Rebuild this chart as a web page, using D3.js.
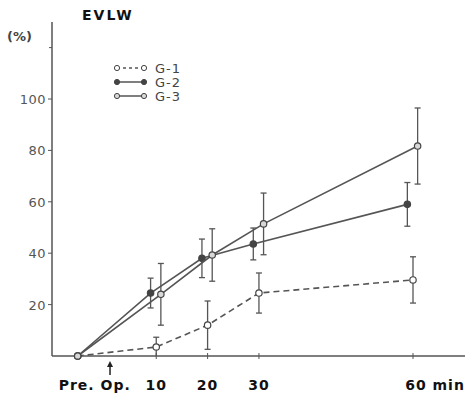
<!DOCTYPE html>
<html>
<head>
<meta charset="utf-8">
<script src="https://cdn.jsdelivr.net/npm/d3@7"></script>
<style>
body { margin: 0; background: #fff; }
text { font-family: "DejaVu Sans", sans-serif; }
</style>
</head>
<body>
<script>
var width = 465,
    height = 396;

// time points (min); Pre. Op. is drawn a bit left of 0
var times = [-5.3, 10, 20, 30, 60];
var tickLabels = ["Pre. Op.", "10", "20", "30", "60 min"];
var yTicks = [20, 40, 60, 80, 100];

var g1 = [0, 3.5, 12, 24.5, 29.6];
var g1Err = [0, 3.8, 9.4, 7.8, 9];
var g2 = [0, 24.5, 38, 43.6, 59];
var g2Err = [0, 5.8, 7.5, 6.2, 8.5];
var g3 = [0, 24, 39.3, 51.4, 81.7];
var g3Err = [0, 12, 10.2, 12, 14.8];

var series = [
  {name: "G-1", values: g1, err: g1Err, dodge: 0, dash: "6,4", fill: "#fff"},
  {name: "G-2", values: g2, err: g2Err, dodge: -1.1, dash: null, fill: "#444"},
  {name: "G-3", values: g3, err: g3Err, dodge: 0.9, dash: null, fill: "#d8d8d8"}
];

var svg = d3.select("body").append("svg")
  .attr("width", width)
  .attr("height", height);

var x = d3.scaleLinear().domain([-10.3, 60]).range([52, 413]);
var y = d3.scaleLinear().domain([0, 100]).range([356, 99]);

var ink = "#555";

// y axis
svg.append("line")
  .attr("x1", x(-10.3)).attr("x2", x(-10.3))
  .attr("y1", y(130)).attr("y2", y(0))
  .attr("stroke", ink).attr("stroke-width", 1.5);
svg.append("line")
  .attr("x1", x(-10.3) - 3).attr("x2", x(-10.3))
  .attr("y1", y(120)).attr("y2", y(120))
  .attr("stroke", ink);

var yAxis = svg.append("g").selectAll("g").data(yTicks).enter().append("g");
yAxis.append("line")
  .attr("x1", x(-10.3) - 4).attr("x2", x(-10.3))
  .attr("y1", function(d) { return y(d); })
  .attr("y2", function(d) { return y(d); })
  .attr("stroke", ink);
yAxis.append("text")
  .attr("x", x(-10.3) - 6)
  .attr("y", function(d) { return y(d) + 5; })
  .attr("text-anchor", "end")
  .style("font-size", "13px")
  .style("letter-spacing", "0.5px")
  .style("fill", "#555")
  .text(function(d) { return d; });

// x axis
svg.append("line")
  .attr("x1", x(-10.3)).attr("x2", width)
  .attr("y1", y(0)).attr("y2", y(0))
  .attr("stroke", ink).attr("stroke-width", 1.5);
svg.selectAll(".xtick").data(times.slice(1)).enter().append("line")
  .attr("class", "xtick")
  .attr("x1", function(d) { return x(d); })
  .attr("x2", function(d) { return x(d); })
  .attr("y1", y(0) - 3).attr("y2", y(0) + 3)
  .attr("stroke", ink);

var labelShift = [17, 0, 0, 0, 22];
svg.selectAll(".xlab").data(tickLabels).enter().append("text")
  .attr("class", "xlab")
  .attr("x", function(d, i) { return x(times[i]) + labelShift[i]; })
  .attr("y", 390)
  .attr("text-anchor", "middle")
  .style("font-size", "14px")
  .style("font-weight", "bold")
  .style("letter-spacing", "1px")
  .style("fill", "#111")
  .text(function(d) { return d; });

// operation arrow
svg.append("line")
  .attr("x1", x(1)).attr("x2", x(1))
  .attr("y1", 363).attr("y2", 375)
  .attr("stroke", "#222").attr("stroke-width", 1.5);
svg.append("path")
  .attr("d", "M" + (x(1) - 3) + ",367L" + x(1) + ",361L" + (x(1) + 3) + ",367Z")
  .attr("fill", "#222");

// titles
svg.append("text").attr("x", 82).attr("y", 20)
  .style("font-size", "14px").style("font-weight", "bold").style("fill", "#111")
  .style("letter-spacing", "2px")
  .text("EVLW");
svg.append("text").attr("x", 7).attr("y", 41)
  .style("font-size", "13px").style("font-weight", "bold").style("fill", "#444")
  .text("(%)");

var px = function(s, i) { return x(times[i] + (i == 0 ? 0 : s.dodge)); };

var line = d3.line();

series.forEach(function(s) {
  var pts = s.values.map(function(v, i) { return [px(s, i), y(v)]; });
  svg.append("path")
    .attr("d", line(pts))
    .attr("fill", "none")
    .attr("stroke", ink)
    .attr("stroke-width", 1.6)
    .attr("stroke-dasharray", s.dash);

  var eb = svg.append("g").selectAll("g").data(s.values).enter()
    .filter(function(d, i) { return s.err[i] > 0; })
    .append("g");
  eb.each(function(v) {
    var i = s.values.indexOf(v);
    var cx = px(s, i);
    var top = y(v + s.err[i]), bot = y(Math.max(0, v - s.err[i]));
    var g = d3.select(this);
    g.append("line").attr("x1", cx).attr("x2", cx).attr("y1", top).attr("y2", bot)
      .attr("stroke", ink).attr("stroke-width", 1.3);
    g.append("line").attr("x1", cx - 3).attr("x2", cx + 3).attr("y1", top).attr("y2", top)
      .attr("stroke", ink).attr("stroke-width", 1.3);
    if (v - s.err[i] > 0)
      g.append("line").attr("x1", cx - 3).attr("x2", cx + 3).attr("y1", bot).attr("y2", bot)
        .attr("stroke", ink).attr("stroke-width", 1.3);
  });

  svg.append("g").selectAll("circle").data(s.values).enter().append("circle")
    .attr("cx", function(d, i) { return px(s, i); })
    .attr("cy", function(d) { return y(d); })
    .attr("r", 3.2)
    .attr("fill", s.fill)
    .attr("stroke", "#444")
    .attr("stroke-width", 1.2);
});

// legend
var legend = svg.append("g").selectAll("g").data(series).enter().append("g")
  .attr("transform", function(d, i) { return "translate(117," + (68 + i * 14) + ")"; });
legend.append("line")
  .attr("x1", 0).attr("x2", 27).attr("y1", 0).attr("y2", 0)
  .attr("stroke", ink).attr("stroke-width", 1.5)
  .attr("stroke-dasharray", function(d) { return d.dash ? "3,3" : null; });
legend.selectAll("circle").data(function(d) { return [d, d]; }).enter().append("circle")
  .attr("cx", function(d, i) { return i * 27; })
  .attr("cy", 0)
  .attr("r", 2.6)
  .attr("fill", function(d) { return d.fill; })
  .attr("stroke", "#444").attr("stroke-width", 1);
legend.append("text")
  .attr("x", 38).attr("y", 5)
  .style("font-size", "13px")
  .style("letter-spacing", "1px")
  .style("fill", "#444")
  .text(function(d) { return d.name; });
</script>
</body>
</html>
